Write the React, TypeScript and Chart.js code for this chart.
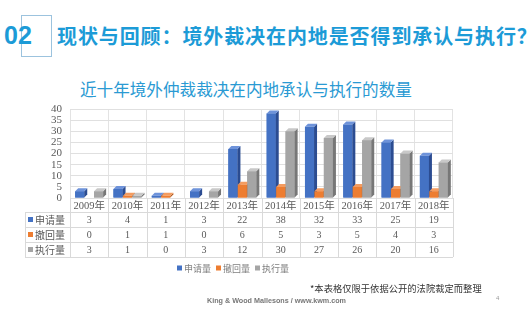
import React, { useEffect, useRef } from "react";
import { Chart, registerables } from "chart.js";
Chart.register(...registerables);

const years = ["2009年", "2010年", "2011年", "2012年", "2013年", "2014年", "2015年", "2016年", "2017年", "2018年"];
const seriesNames = ["申请量", "撤回量", "执行量"];
const applied = [3, 4, 1, 3, 22, 38, 32, 33, 25, 19];
const withdrawn = [0, 1, 1, 0, 6, 5, 3, 5, 4, 3];
const enforced = [3, 1, 0, 3, 12, 30, 27, 26, 20, 16];
const yMax = 40;
const yStep = 5;

const frontColors = ["#4472C4", "#ED7D31", "#A5A5A5"];
const sideColors = ["#2B4C91", "#B25A1F", "#777777"];
const topColors = ["#6E93DA", "#F49C60", "#C8C8C8"];

const DEPTH = 3;

const bar3d = {
  id: "bar3d",
  afterDatasetsDraw(chart: any) {
    const ctx = chart.ctx;
    const n = chart.data.labels.length;
    ctx.save();
    for (let i = 0; i < n; i++) {
      for (let d = 0; d < chart.data.datasets.length; d++) {
        const el = chart.getDatasetMeta(d).data[i];
        if (!el) continue;
        const p = el.getProps(["x", "y", "base", "width"], true);
        const l = p.x - p.width / 2;
        const r = p.x + p.width / 2;
        const top = Math.min(p.y, p.base);
        const base = p.base;
        if (base - top < 0.5) continue;
        ctx.fillStyle = frontColors[d];
        ctx.fillRect(l, top, r - l, base - top);
        ctx.fillStyle = sideColors[d];
        ctx.beginPath();
        ctx.moveTo(r, top);
        ctx.lineTo(r + DEPTH, top - DEPTH);
        ctx.lineTo(r + DEPTH, base - DEPTH);
        ctx.lineTo(r, base);
        ctx.closePath();
        ctx.fill();
        ctx.fillStyle = topColors[d];
        ctx.beginPath();
        ctx.moveTo(l, top);
        ctx.lineTo(l + DEPTH, top - DEPTH);
        ctx.lineTo(r + DEPTH, top - DEPTH);
        ctx.lineTo(r, top);
        ctx.closePath();
        ctx.fill();
      }
    }
    ctx.restore();
  },
};

const ROW_TOP = 198;
const ROW_H = [14, 15, 15, 15];
const TABLE_LEFT = 25;

const dataTable = {
  id: "dataTable",
  afterDraw(chart: any) {
    const ctx = chart.ctx;
    const xs = chart.scales.x;
    const n = chart.data.labels.length;
    const cw = (xs.right - xs.left) / n;
    const rows = [ROW_TOP];
    for (const h of ROW_H) rows.push(rows[rows.length - 1] + h);
    ctx.save();
    ctx.strokeStyle = "#D9D9D9";
    ctx.lineWidth = 1;
    for (let k = 1; k < rows.length; k++) {
      ctx.beginPath();
      ctx.moveTo(TABLE_LEFT, rows[k] + 0.5);
      ctx.lineTo(xs.right, rows[k] + 0.5);
      ctx.stroke();
    }
    for (let i = 0; i <= n; i++) {
      const x = Math.round(xs.left + i * cw) + 0.5;
      ctx.beginPath();
      ctx.moveTo(x, rows[0]);
      ctx.lineTo(x, rows[rows.length - 1]);
      ctx.stroke();
    }
    ctx.beginPath();
    ctx.moveTo(TABLE_LEFT + 0.5, rows[1]);
    ctx.lineTo(TABLE_LEFT + 0.5, rows[rows.length - 1]);
    ctx.stroke();

    ctx.fillStyle = "#595959";
    ctx.textAlign = "center";
    ctx.textBaseline = "middle";
    ctx.font = "10.5px 'Liberation Serif', 'Noto Sans CJK SC', serif";
    for (let i = 0; i < n; i++) {
      const cx = xs.getPixelForValue(i);
      ctx.fillText(chart.data.labels[i], cx, (rows[0] + rows[1]) / 2 + 1);
    }
    ctx.font = "10px 'Liberation Serif', serif";
    chart.data.datasets.forEach((ds: any, d: number) => {
      const cy = (rows[d + 1] + rows[d + 2]) / 2 + 1;
      for (let i = 0; i < n; i++) {
        ctx.fillText(String(ds.data[i]), xs.getPixelForValue(i), cy);
      }
    });
    ctx.textAlign = "left";
    ctx.font = "10px 'Noto Sans CJK SC', serif";
    chart.data.datasets.forEach((ds: any, d: number) => {
      const cy = (rows[d + 1] + rows[d + 2]) / 2;
      ctx.fillStyle = frontColors[d];
      ctx.fillRect(TABLE_LEFT + 3, cy - 2.5, 5, 5);
      ctx.fillStyle = "#595959";
      ctx.fillText(ds.label, TABLE_LEFT + 10, cy + 0.5);
    });
    const ly = 268;
    let lx = 177;
    ctx.font = "9px 'Noto Sans CJK SC', serif";
    chart.data.datasets.forEach((ds: any, d: number) => {
      ctx.fillStyle = frontColors[d];
      ctx.fillRect(lx, ly - 2.5, 5, 5);
      ctx.fillStyle = "#7F7F7F";
      ctx.fillText(ds.label, lx + 7, ly + 0.5);
      lx += 39;
    });
    ctx.restore();
  },
};

export default function App() {
  const ref = useRef<HTMLCanvasElement | null>(null);
  useEffect(() => {
    if (!ref.current) return;
    const chart = new Chart(ref.current, {
      type: "bar",
      data: {
        labels: years,
        datasets: [
          { label: seriesNames[0], data: applied, backgroundColor: frontColors[0] },
          { label: seriesNames[1], data: withdrawn, backgroundColor: frontColors[1] },
          { label: seriesNames[2], data: enforced, backgroundColor: frontColors[2] },
        ],
      },
      options: {
        animation: false,
        responsive: false,
        maintainAspectRatio: false,
        layout: { padding: { top: 109, right: 79, bottom: 111, left: 0 } },
        plugins: { legend: { display: false }, tooltip: { enabled: false }, title: { display: false } },
        datasets: { bar: { categoryPercentage: 0.74, barPercentage: 0.96 } },
        scales: {
          x: {
            grid: { color: "#E3E3E3", offset: true, drawTicks: false },
            border: { display: false },
            ticks: { display: false },
            afterFit: (s: any) => { s.height = 0; },
          },
          y: {
            min: 0,
            max: yMax,
            ticks: {
              stepSize: yStep,
              autoSkip: false,
              padding: 8,
              color: "#595959",
              font: { family: "'Liberation Serif', serif", size: 11 },
            },
            grid: { color: "#E0E0E0", drawTicks: false },
            border: { display: false },
            afterFit: (s: any) => { s.width = 70; },
          },
        },
      },
      plugins: [bar3d, dataTable],
    });
    return () => chart.destroy();
  }, []);

  return (
    <div style={{ position: "fixed", left: 0, top: 0, width: 532, height: 309, background: "#fff", overflow: "hidden", fontFamily: "'Noto Sans CJK SC', sans-serif" }}>
      <div style={{ position: "absolute", left: 21, top: 15, width: 31, height: 42, border: "1px solid #9CC3DE", boxSizing: "border-box" }} />
      <div style={{ position: "absolute", left: 4, top: 19, fontSize: 25, fontWeight: 700, color: "#1C9BD7", lineHeight: "32px", fontFamily: "'Liberation Sans', Arial, sans-serif" }}>02</div>
      <div style={{ position: "absolute", left: 57, top: 22, fontSize: 20, fontWeight: 700, color: "#1C9BD7", lineHeight: "28px", whiteSpace: "nowrap", letterSpacing: 0.9 }}>现状与回顾：境外裁决在内地是否得到承认与执行？</div>
      <div style={{ position: "absolute", left: 80, top: 77, fontSize: 16.6, color: "#2A9AD3", lineHeight: "24px", whiteSpace: "nowrap" }}>近十年境外仲裁裁决在内地承认与执行的数量</div>
      <canvas ref={ref} width={532} height={309} style={{ position: "absolute", left: 0, top: 0, width: 532, height: 309 }} />
      <div style={{ position: "absolute", left: 310, top: 281, fontSize: 9.3, color: "#333", lineHeight: "14px", whiteSpace: "nowrap" }}>*本表格仅限于依据公开的法院裁定而整理</div>
      <div style={{ position: "absolute", left: 207, top: 296, fontSize: 7.2, color: "#777", lineHeight: "10px", whiteSpace: "nowrap", fontFamily: "'Liberation Sans', Arial, sans-serif", fontWeight: 700 }}>King &amp; Wood Mallesons / www.kwm.com</div>
      <div style={{ position: "absolute", left: 496, top: 293, fontSize: 6, color: "#999", lineHeight: "10px", fontFamily: "'Liberation Sans', Arial, sans-serif" }}>4</div>
    </div>
  );
}
